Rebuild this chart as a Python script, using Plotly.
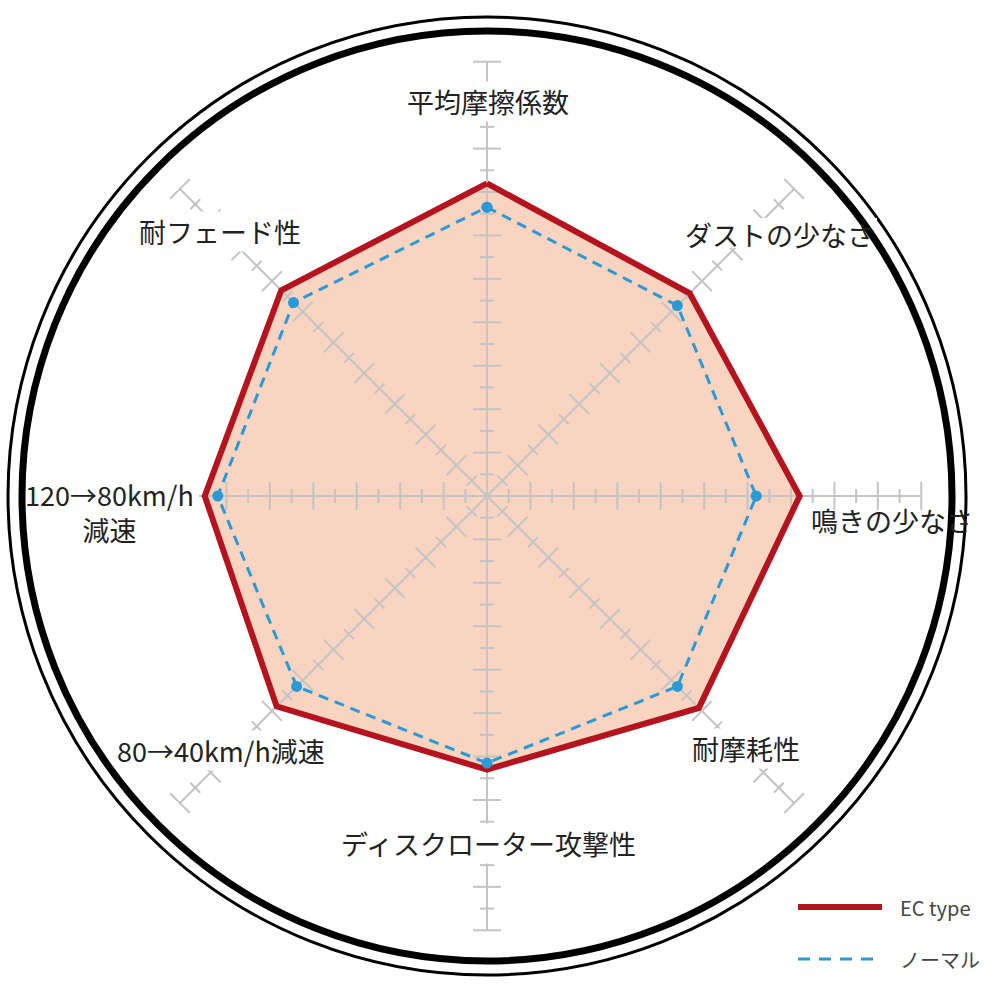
import plotly.graph_objects as go

# radar data (0-10 scale)
categories = ['平均摩擦係数', 'ダストの少なさ', '鳴きの少なさ', '耐摩耗性',
              'ディスクローター攻撃性', '80→40km/h減速', '120→80km/h<br>減速', '耐フェード性']
spoke_angles = [0, 45, 90, 135, 180, 225, 270, 315]
ec_type = [7.2, 6.6, 7.2, 6.9, 6.3, 6.85, 6.5, 6.7]
normal = [6.65, 6.2, 6.2, 6.2, 6.15, 6.2, 6.2, 6.3]
series_names = ['EC type', 'ノーマル']

major_ticks = [1, 2, 3, 4, 5, 6, 7, 8, 9, 10]
minor_ticks = [0.5, 1.5, 2.5, 3.5, 4.5, 5.5, 6.5, 7.5, 8.5, 9.5]
axis_max = 10
outer_r = 11.03

RED = '#b5141e'
BLUE = '#2a9ad6'
FILL = '#f8d4c1'
GRID = '#c4c4c4'
TXT = '#222222'
FONT = 'Noto Sans CJK JP'

# pixel -> paper helpers (figure is 1000x1000, no margins)
def px(x):
    return x / 1000

def py(y):
    return 1 - y / 1000

cx, cy, rad = 487, 496, 479
ring_px = 465

closed = lambda v: v + v[:1]
theta_c = closed(spoke_angles)

fig = go.Figure()

# peach fill under everything
fig.add_trace(go.Scatterpolar(r=closed(ec_type), theta=theta_c, mode='lines', fill='toself',
                              fillcolor=FILL, line=dict(width=0, color=FILL), hoverinfo='skip'))

# spokes
sr, st = [], []
for a in spoke_angles:
    sr += [0, axis_max, None]
    st += [a, a, None]
fig.add_trace(go.Scatterpolar(r=sr, theta=st, mode='lines', line=dict(color=GRID, width=2),
                              hoverinfo='skip'))

# tick crosses on every spoke
for ticks, size in [(major_ticks, 20), (minor_ticks, 10)]:
    tr, tt, ta = [], [], []
    for a in spoke_angles:
        for t in ticks:
            tr.append(t)
            tt.append(a)
            ta.append(a)
    fig.add_trace(go.Scatterpolar(r=tr, theta=tt, mode='markers', hoverinfo='skip',
                                  marker=dict(symbol='line-ew', size=size, angle=ta,
                                              line=dict(color=GRID, width=2))))

# series
fig.add_trace(go.Scatterpolar(r=closed(ec_type), theta=theta_c, mode='lines', name=series_names[0],
                              line=dict(color=RED, width=6)))
fig.add_trace(go.Scatterpolar(r=closed(normal), theta=theta_c, mode='lines+markers', name=series_names[1],
                              line=dict(color=BLUE, width=3, dash='10px,7px'),
                              marker=dict(size=11, color=BLUE)))

fig.update_layout(
    width=1000, height=1000,
    margin=dict(l=0, r=0, t=0, b=0),
    paper_bgcolor='white',
    showlegend=False,
    polar=dict(
        domain=dict(x=[px(cx - rad), px(cx + rad)], y=[py(cy + rad), py(cy - rad)]),
        bgcolor='white',
        radialaxis=dict(range=[0, outer_r], visible=False),
        angularaxis=dict(rotation=90, direction='clockwise', showgrid=False,
                         showticklabels=False, ticks='', showline=True,
                         linecolor='black', linewidth=3),
    ),
    font=dict(family=FONT, color=TXT),
)

# white patches behind the labels that sit on the ring (so the ring stays on top)
for x0, x1, y0, y1 in [(684, 877, 218, 248), (21, 199, 482, 511)]:
    fig.add_shape(type='rect', xref='paper', yref='paper', layer='above',
                  x0=px(x0), x1=px(x1), y0=py(y1), y1=py(y0),
                  fillcolor='white', line=dict(width=0))

# thick inner ring
fig.add_shape(type='circle', xref='paper', yref='paper', layer='above',
              x0=px(cx - ring_px), x1=px(cx + ring_px), y0=py(cy + ring_px), y1=py(cy - ring_px),
              line=dict(color='black', width=7))

# axis labels (pixel centres)
label_pos = [(488, 102, True), (779, 234, False), (892, 520, False), (746, 748, True),
             (488, 843, True), (221, 750, True), (109, 512, False), (220, 232, True)]
for text, (x, y, bg) in zip(categories, label_pos):
    fig.add_annotation(x=px(x), y=py(y), xref='paper', yref='paper', text=text,
                       showarrow=False, font=dict(size=27, color=TXT, family=FONT),
                       bgcolor='white' if bg else None, borderpad=0,
                       xanchor='center', yanchor='middle')

# legend drawn by hand
fig.add_shape(type='line', xref='paper', yref='paper', x0=px(798), x1=px(882), y0=py(907), y1=py(907),
              line=dict(color=RED, width=6))
fig.add_shape(type='line', xref='paper', yref='paper', x0=px(798), x1=px(880), y0=py(959), y1=py(959),
              line=dict(color=BLUE, width=3, dash='12px,9px'))
for name, y in zip(series_names, [907, 959]):
    fig.add_annotation(x=px(898), y=py(y), xref='paper', yref='paper', text=name, showarrow=False,
                       font=dict(size=20, color='#444444', family=FONT), xanchor='left', yanchor='middle')

fig.write_html("out.html", config=dict(displayModeBar=False),
               post_script="document.body.style.margin='0px';")
